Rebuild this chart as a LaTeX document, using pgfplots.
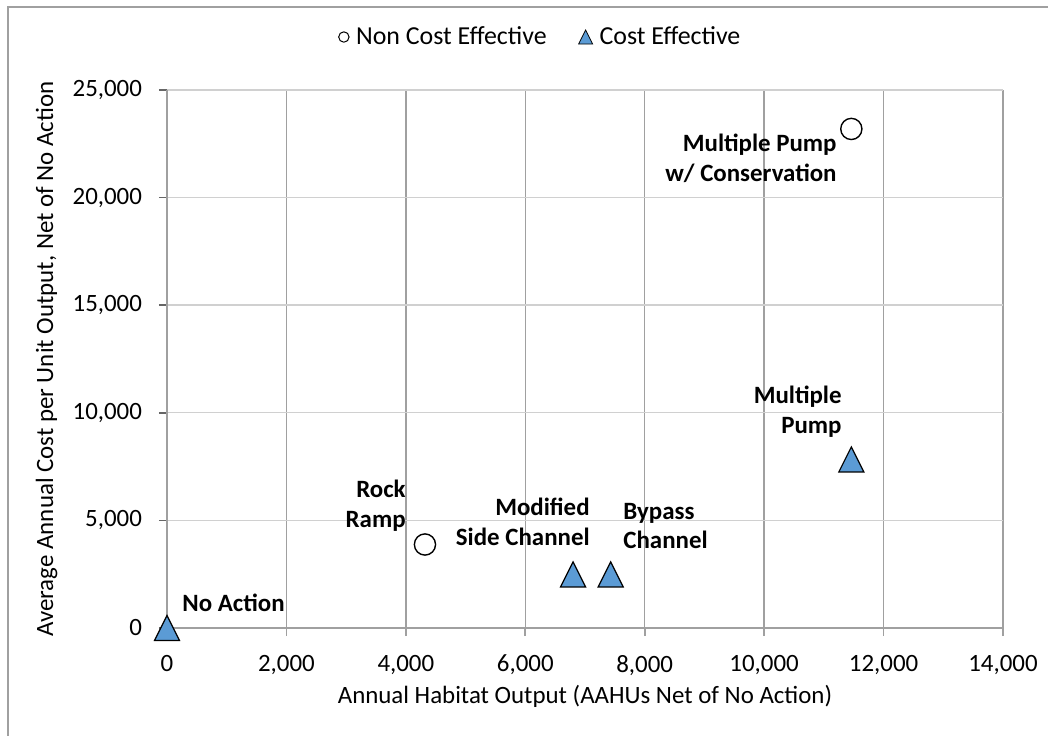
\documentclass[border=0pt]{standalone}
\usepackage{fontspec}
\setmainfont{Carlito}
\usepackage{pgfplots}
\pgfplotsset{compat=1.18}
\definecolor{triblue}{HTML}{5B9BD5}
\definecolor{vgrid}{HTML}{A0A0A0}
\definecolor{hgrid}{HTML}{D0D0D0}
\definecolor{frame}{HTML}{A0A0A0}
\pgfdeclareplotmark{tri}{%
  \pgfpathmoveto{\pgfqpoint{0pt}{1\pgfplotmarksize}}%
  \pgfpathlineto{\pgfqpoint{-1\pgfplotmarksize}{-1\pgfplotmarksize}}%
  \pgfpathlineto{\pgfqpoint{1\pgfplotmarksize}{-1\pgfplotmarksize}}%
  \pgfpathclose\pgfusepathqfillstroke}
\begin{document}
\begin{tikzpicture}
\useasboundingbox (-83.5bp,-54bp) rectangle (440.5bp,314bp);
\draw[frame, line width=1bp] (-79.5bp,-60bp) -- (-79.5bp,310.5bp) -- (450bp,310.5bp);
\begin{axis}[
  at={(0,0)}, anchor=south west,
  scale only axis, width=418bp, height=269bp,
  xmin=0, xmax=14000, ymin=0, ymax=25000,
  xtick={0,2000,...,14000}, ytick={0,5000,...,25000},
  axis x line*=bottom, axis y line*=left,
  x axis line style={vgrid, line width=0.8bp, -},
  y axis line style={vgrid, line width=0.8bp, -},
  grid=major,
  x grid style={vgrid, line width=0.7bp},
  y grid style={hgrid, line width=0.7bp},
  tick align=outside, major tick length=4bp,
  xtick style={vgrid, line width=0.8bp},
  ytick style={gray!80!black, line width=0.8bp},
  /pgf/number format/assume math mode=true,
  /pgf/number format/1000 sep={,},
  scaled ticks=false,
  ticklabel style={font=\fontsize{12.5}{14}\selectfont, text=black},
  xticklabel style={yshift=-6bp},
  yticklabel style={xshift=-5bp},
  xlabel={Annual Habitat Output (AAHUs Net of No Action)},
  ylabel={Average Annual Cost per Unit Output, Net of No Action},
  label style={font=\fontsize{12.5}{14}\selectfont},
  xlabel style={at={(0.5,-0.128)}, anchor=center},
  ylabel style={at={(-0.144,0.5)}, anchor=center},
  clip=false,
  legend columns=2,
  legend style={at={(0.448,1.0985)}, anchor=center, draw=none, fill=none,
    font=\fontsize{13}{15}\selectfont,
    /tikz/every odd column/.append style={column sep=1.5bp},
    /tikz/every even column/.append style={column sep=14bp}},
]
\addlegendimage{only marks, mark=*, mark size=2.6bp, mark options={fill=white, draw=black, line width=0.5bp}}
\addlegendentry{Non Cost Effective}
\addlegendimage{only marks, mark=tri, mark size=3.5bp, mark options={fill=triblue, draw=black, line width=0.4bp}}
\addlegendentry{Cost Effective}
\addplot[only marks, mark=*, mark size=5.3bp, mark options={fill=white, draw=black, line width=0.7bp}, forget plot]
  coordinates {(4320,3880) (11460,23190)};
\addplot[only marks, mark=tri, mark size=6.25bp, mark options={fill=triblue, draw=black, line width=0.6bp}, forget plot]
  coordinates {(0,0) (6800,2490) (7430,2490) (11460,7830)};
\begin{scope}[every node/.style={inner sep=0pt, font=\bfseries\fontsize{12.5}{15}\selectfont}]
\node[anchor=west] at (axis cs:251,1160) {No Action};
\node[anchor=east, align=right] at (axis cs:4003,5669) {Rock\\Ramp};
\node[anchor=east, align=right] at (axis cs:7084,4926) {Modified\\Side Channel};
\node[anchor=west, align=left] at (axis cs:7637,4740) {Bypass\\Channel};
\node[anchor=east, align=right] at (axis cs:11304,10037) {Multiple\\Pump};
\node[anchor=east, align=right] at (axis cs:11220,21840) {Multiple Pump\\w/ Conservation};
\end{scope}
\end{axis}
\end{tikzpicture}
\end{document}
